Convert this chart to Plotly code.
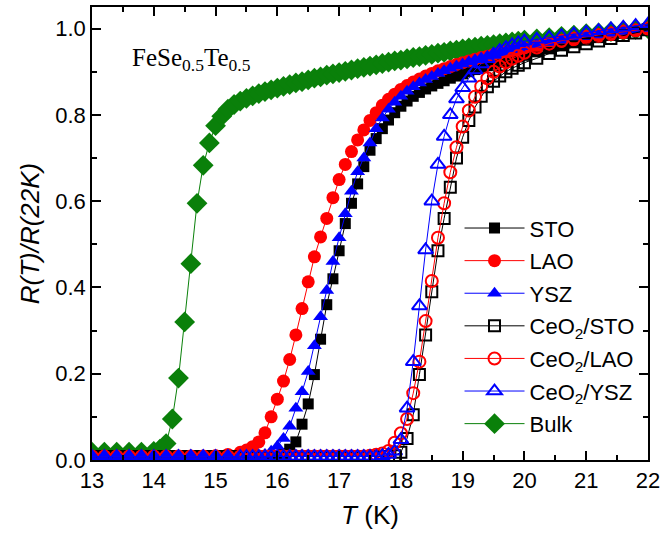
import plotly.graph_objects as go

# ---------------- data ----------------
T_film = [13.0, 13.2, 13.4, 13.6, 13.8, 14.0, 14.2, 14.4, 14.6, 14.8, 15.0, 15.2, 15.4,
          15.5, 15.6, 15.7, 15.8, 15.9, 16.0, 16.1, 16.2, 16.3, 16.4, 16.5, 16.6, 16.7, 16.8, 16.9,
          17.0, 17.1, 17.2, 17.3, 17.4, 17.5, 17.6, 17.7, 17.8, 17.9,
          18.0, 18.1, 18.2, 18.3, 18.4, 18.5, 18.6, 18.7, 18.8, 18.9,
          19.0, 19.1, 19.2, 19.3, 19.4, 19.5, 19.6, 19.7, 19.8, 19.9, 20.0,
          20.2, 20.4, 20.6, 20.8, 21.0, 21.2, 21.4, 21.6, 21.8, 22.0]

R_STO = [0.008, 0.008, 0.008, 0.008, 0.008, 0.008, 0.008, 0.008, 0.008, 0.008, 0.008, 0.008, 0.008,
         0.008, 0.008, 0.008, 0.008, 0.008, 0.010, 0.015, 0.025, 0.042, 0.083, 0.130, 0.198, 0.280, 0.360, 0.420,
         0.485, 0.548, 0.595, 0.640, 0.680, 0.718, 0.745, 0.768, 0.788, 0.805,
         0.820, 0.832, 0.843, 0.852, 0.860, 0.867, 0.873, 0.879, 0.885, 0.890,
         0.895, 0.900, 0.905, 0.910, 0.914, 0.918, 0.922, 0.926, 0.930, 0.934, 0.938,
         0.946, 0.953, 0.960, 0.967, 0.973, 0.979, 0.984, 0.989, 0.995, 1.000]

R_LAO = [0.008, 0.008, 0.008, 0.008, 0.008, 0.008, 0.008, 0.008, 0.008, 0.008, 0.010, 0.013, 0.018,
         0.023, 0.031, 0.042, 0.063, 0.100, 0.141, 0.183, 0.233, 0.290, 0.351, 0.413, 0.471, 0.517, 0.560, 0.608,
         0.650, 0.685, 0.715, 0.742, 0.765, 0.787, 0.805, 0.822, 0.836, 0.848,
         0.859, 0.868, 0.876, 0.883, 0.890, 0.896, 0.902, 0.907, 0.912, 0.917,
         0.921, 0.925, 0.929, 0.933, 0.936, 0.940, 0.943, 0.946, 0.949, 0.952, 0.955,
         0.960, 0.965, 0.970, 0.974, 0.978, 0.982, 0.986, 0.990, 0.995, 1.000]

R_YSZ = [0.008, 0.008, 0.008, 0.008, 0.008, 0.008, 0.008, 0.008, 0.008, 0.008, 0.008, 0.008, 0.008,
         0.008, 0.009, 0.010, 0.013, 0.020, 0.032, 0.050, 0.078, 0.120, 0.158, 0.205, 0.265, 0.332, 0.393, 0.460,
         0.515, 0.571, 0.623, 0.668, 0.700, 0.735, 0.768, 0.793, 0.813, 0.829,
         0.843, 0.855, 0.865, 0.874, 0.882, 0.889, 0.896, 0.902, 0.908, 0.913,
         0.918, 0.923, 0.928, 0.932, 0.936, 0.940, 0.944, 0.948, 0.951, 0.955, 0.958,
         0.963, 0.968, 0.973, 0.977, 0.981, 0.985, 0.989, 0.993, 0.997, 1.000]

R_CeO2_STO = [0.008, 0.008, 0.008, 0.008, 0.008, 0.008, 0.008, 0.008, 0.008, 0.008, 0.008, 0.008, 0.008,
              0.008, 0.008, 0.008, 0.008, 0.008, 0.008, 0.008, 0.008, 0.008, 0.008, 0.008, 0.008, 0.008, 0.008, 0.008,
              0.008, 0.008, 0.008, 0.008, 0.008, 0.008, 0.008, 0.008, 0.008, 0.010,
              0.018, 0.050, 0.105, 0.198, 0.290, 0.390, 0.485, 0.560, 0.632, 0.700,
              0.748, 0.787, 0.818, 0.843, 0.865, 0.878, 0.890, 0.900, 0.908, 0.915, 0.921,
              0.931, 0.942, 0.950, 0.958, 0.965, 0.971, 0.977, 0.984, 0.990, 0.997]

R_CeO2_LAO = [0.008, 0.008, 0.008, 0.008, 0.008, 0.008, 0.008, 0.008, 0.008, 0.008, 0.008, 0.008, 0.008,
              0.008, 0.008, 0.008, 0.008, 0.008, 0.008, 0.008, 0.008, 0.008, 0.008, 0.008, 0.008, 0.008, 0.008, 0.008,
              0.008, 0.008, 0.008, 0.008, 0.008, 0.010, 0.012, 0.015, 0.021, 0.040,
              0.062, 0.095, 0.155, 0.228, 0.322, 0.415, 0.515, 0.595, 0.667, 0.725,
              0.773, 0.810, 0.842, 0.866, 0.885, 0.900, 0.912, 0.922, 0.930, 0.937, 0.944,
              0.956, 0.965, 0.972, 0.977, 0.981, 0.985, 0.989, 0.993, 0.996, 1.000]

R_CeO2_YSZ = [0.008, 0.008, 0.008, 0.008, 0.008, 0.008, 0.008, 0.008, 0.008, 0.008, 0.008, 0.008, 0.008,
              0.008, 0.008, 0.008, 0.008, 0.008, 0.008, 0.008, 0.008, 0.008, 0.008, 0.008, 0.008, 0.008, 0.008, 0.008,
              0.008, 0.008, 0.008, 0.008, 0.008, 0.008, 0.008, 0.010, 0.013, 0.020,
              0.047, 0.120, 0.228, 0.357, 0.487, 0.600, 0.685, 0.750, 0.800, 0.837,
              0.863, 0.885, 0.904, 0.918, 0.930, 0.940, 0.949, 0.956, 0.962, 0.967, 0.971,
              0.975, 0.979, 0.983, 0.987, 0.991, 0.995, 0.999, 1.003, 1.007, 1.010]

T_bulk = [13.0, 13.2, 13.4, 13.6, 13.8, 14.0,
          14.1, 14.2, 14.3, 14.4, 14.5, 14.6, 14.7, 14.8, 14.9, 15.0,
          15.1, 15.2, 15.3, 15.4, 15.5, 15.6, 15.7, 15.8, 15.9, 16.0,
          16.1, 16.2, 16.3, 16.4, 16.5, 16.6, 16.7, 16.8, 16.9, 17.0,
          17.1, 17.2, 17.3, 17.4, 17.5, 17.6, 17.7, 17.8, 17.9, 18.0,
          18.1, 18.2, 18.3, 18.4, 18.5, 18.6, 18.7, 18.8, 18.9, 19.0,
          19.1, 19.2, 19.3, 19.4, 19.5, 19.6, 19.7, 19.8, 19.9, 20.0,
          20.2, 20.4, 20.6, 20.8, 21.0, 21.2, 21.4, 21.6, 21.8, 22.0]

R_bulk = [0.018, 0.018, 0.018, 0.018, 0.018, 0.020,
          0.025, 0.038, 0.095, 0.190, 0.320, 0.455, 0.595, 0.683, 0.735, 0.775,
          0.797, 0.813, 0.824, 0.832, 0.838, 0.844, 0.849, 0.854, 0.858, 0.862,
          0.866, 0.870, 0.874, 0.877, 0.881, 0.885, 0.888, 0.892, 0.895, 0.898,
          0.901, 0.904, 0.907, 0.910, 0.913, 0.916, 0.919, 0.922, 0.925, 0.927,
          0.930, 0.933, 0.935, 0.938, 0.940, 0.943, 0.945, 0.948, 0.950, 0.953,
          0.955, 0.957, 0.959, 0.961, 0.963, 0.965, 0.967, 0.969, 0.971, 0.973,
          0.976, 0.979, 0.982, 0.985, 0.988, 0.990, 0.993, 0.995, 0.998, 1.000]

x_ticks = [13, 14, 15, 16, 17, 18, 19, 20, 21, 22]
y_ticks = [0.0, 0.2, 0.4, 0.6, 0.8, 1.0]
y_tick_text = ["0.0", "0.2", "0.4", "0.6", "0.8", "1.0"]

# ---------------- figure ----------------
BLACK, RED, BLUE, GREEN = "#000000", "#ff0000", "#0000ff", "#0a800a"

series = [
    # name, x, y, color, symbol, size, rank
    ("Bulk", T_bulk, R_bulk, GREEN, "diamond", 16, 7),
    ("STO", T_film, R_STO, BLACK, "square", 11, 1),
    ("LAO", T_film, R_LAO, RED, "circle", 13, 2),
    ("YSZ", T_film, R_YSZ, BLUE, "triangle-up", 13, 3),
    ("CeO<sub>2</sub>/STO", T_film, R_CeO2_STO, BLACK, "square-open", 11, 4),
    ("CeO<sub>2</sub>/LAO", T_film, R_CeO2_LAO, RED, "circle-open", 12, 5),
    ("CeO<sub>2</sub>/YSZ", T_film, R_CeO2_YSZ, BLUE, "triangle-up-open", 13, 6),
]

fig = go.Figure()
for name, xs, ys, col, sym, size, rank in series:
    fig.add_trace(go.Scatter(
        x=xs, y=ys, name=name, mode="lines+markers",
        line=dict(color=col, width=1),
        marker=dict(symbol=sym, size=size, color=col,
                    line=dict(color=col, width=2 if "open" in sym else 0)),
        legendrank=rank, legendgroup=name,
    ))

axis_common = dict(
    showline=True, linecolor="black", linewidth=1.5, mirror="ticks",
    ticks="inside", ticklen=9, tickwidth=1.5, tickcolor="black",
    showgrid=False, zeroline=False,
    tickfont=dict(size=22, color="black", family="Liberation Sans, Arial"),
)

fig.update_xaxes(
    range=[13, 22], tickvals=x_ticks, ticklabeloverflow="allow",
    minor=dict(ticks="inside", ticklen=5, tickwidth=1.5, tickcolor="black", dtick=0.5, tick0=13),
    title=dict(text="<i>T</i> (K)", font=dict(size=26, color="black"), standoff=14),
    **axis_common,
)
fig.update_yaxes(
    range=[0, 1.05], tickvals=y_ticks, ticktext=y_tick_text,
    minor=dict(ticks="inside", ticklen=5, tickwidth=1.5, tickcolor="black", dtick=0.1, tick0=0),
    title=dict(text="<i>R(T)/R(22K)</i>", font=dict(size=26, color="black"), standoff=8),
    **axis_common,
)

fig.add_annotation(
    xref="paper", yref="paper", x=0.068, y=0.885, xanchor="left", yanchor="middle",
    text="FeSe<sub>0.5</sub>Te<sub>0.5</sub>", showarrow=False,
    font=dict(family="Liberation Serif, Times New Roman", size=25, color="black"),
)

fig.update_layout(
    width=665, height=537,
    margin=dict(l=92, r=12, t=5, b=77),
    plot_bgcolor="white", paper_bgcolor="white",
    font=dict(family="Liberation Sans, Arial", color="black"),
    legend=dict(x=0.661, y=0.558, xanchor="left", yanchor="top",
                bgcolor="rgba(0,0,0,0)", font=dict(size=22, color="black"),
                itemwidth=60, tracegroupgap=1),
)

fig.write_html("out.html")
